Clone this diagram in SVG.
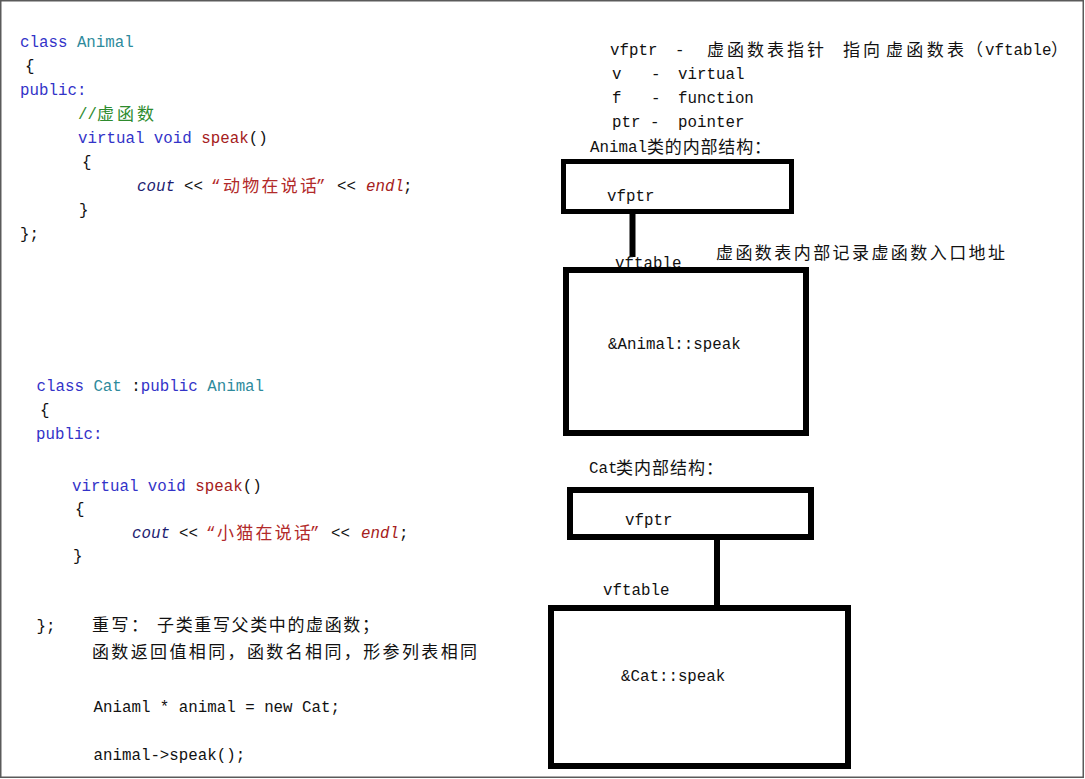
<svg xmlns="http://www.w3.org/2000/svg" width="1085" height="779" viewBox="0 0 1085 779">
<style>
text{fill:#111}
.m{font-family:"Liberation Mono","Noto Sans CJK SC",monospace;font-size:15.8px}
.c{font-family:"Noto Sans CJK SC","Noto Sans",sans-serif;font-size:17px}
.kw{fill:#3333c8}
.ty{fill:#2e8a9c}
.fn{fill:#a52020}
.st{fill:#b22a2a}
.cm{fill:#2e8b2e}
.io{fill:#1c1c70;font-style:italic}
.it{font-style:italic}
.box{fill:#fff;stroke:#000}
.link{stroke:#000;stroke-width:6;fill:none}
</style>
<rect x="0" y="0" width="1085" height="779" fill="#fff"/>
<rect x="0.75" y="0.75" width="1082.5" height="776.5" fill="none" stroke="#5a5a5a" stroke-width="1.5"/>

<g id="animal-code">
<text class="m" x="20" y="47"><tspan class="kw">class</tspan> <tspan class="ty">Animal</tspan></text>
<text class="m" x="25" y="71">{</text>
<text class="m kw" x="20" y="95">public:</text>
<text class="m cm" x="78" y="119">//</text>
<text class="c cm" x="97" y="120" textLength="57" lengthAdjust="spacing">虚函数</text>
<text class="m" x="78" y="143"><tspan class="kw">virtual void</tspan> <tspan class="fn">speak</tspan>()</text>
<text class="m" x="82" y="167">{</text>
<text class="m io" x="137" y="191">cout</text>
<text class="m" x="184" y="191">&lt;&lt;</text>
<text class="m st" x="211" y="191">“</text>
<text class="c st" x="223" y="192" textLength="94" lengthAdjust="spacing">动物在说话</text>
<text class="m st" x="316" y="191">”</text>
<text class="m" x="337" y="191">&lt;&lt;</text>
<text class="m fn it" x="366" y="191">endl</text>
<text class="m" x="403" y="191">;</text>
<text class="m" x="79" y="215">}</text>
<text class="m" x="20" y="239">};</text>
</g>

<g id="cat-code">
<text class="m" x="36.5" y="391"><tspan class="kw">class</tspan> <tspan class="ty">Cat</tspan> :<tspan class="kw">public</tspan> <tspan class="ty">Animal</tspan></text>
<text class="m" x="40" y="415">{</text>
<text class="m kw" x="36" y="439">public:</text>
<text class="m" x="72" y="491"><tspan class="kw">virtual void</tspan> <tspan class="fn">speak</tspan>()</text>
<text class="m" x="75" y="514">{</text>
<text class="m io" x="132" y="538">cout</text>
<text class="m" x="179" y="538">&lt;&lt;</text>
<text class="m st" x="206" y="538">“</text>
<text class="c st" x="217" y="539" textLength="94" lengthAdjust="spacing">小猫在说话</text>
<text class="m st" x="310" y="538">”</text>
<text class="m" x="331" y="538">&lt;&lt;</text>
<text class="m fn it" x="361" y="538">endl</text>
<text class="m" x="399" y="538">;</text>
<text class="m" x="73" y="561">}</text>
<text class="m" x="36.5" y="631">};</text>
</g>

<g id="override-notes">
<text class="c" x="92" y="631" textLength="56" lengthAdjust="spacing">重写：</text>
<text class="c" x="157" y="631" textLength="222" lengthAdjust="spacing">子类重写父类中的虚函数；</text>
<text class="c" x="92" y="658" textLength="385" lengthAdjust="spacing">函数返回值相同，函数名相同，形参列表相同</text>
<text class="m" x="93.5" y="712">Aniaml * animal = new Cat;</text>
<text class="m" x="93.5" y="760">animal-&gt;speak();</text>
</g>

<g id="legend">
<text class="m" x="610" y="55">vfptr</text>
<text class="m" x="675" y="55">-</text>
<text class="c" x="707" y="56" textLength="117" lengthAdjust="spacing">虚函数表指针</text>
<text class="c" x="843" y="56" textLength="37" lengthAdjust="spacing">指向</text>
<text class="c" x="886" y="56" textLength="78" lengthAdjust="spacing">虚函数表</text>
<text class="c" x="966" y="56">（</text>
<text class="m" x="985" y="55">vftable</text>
<text class="c" x="1051" y="56">）</text>
<text class="m" x="612" y="79">v</text>
<text class="m" x="651" y="79">-</text>
<text class="m" x="678" y="79">virtual</text>
<text class="m" x="612" y="103">f</text>
<text class="m" x="651" y="103">-</text>
<text class="m" x="678" y="103">function</text>
<text class="m" x="612" y="127">ptr</text>
<text class="m" x="650" y="127">-</text>
<text class="m" x="678" y="127">pointer</text>
</g>

<g id="connectors">
<line class="link" x1="632.5" y1="212" x2="632.5" y2="257"/>
<line class="link" x1="717" y1="538" x2="717" y2="607"/>
</g>

<g id="animal-struct">
<text class="m" x="590" y="152">Animal</text>
<text class="c" x="647" y="153" textLength="124" lengthAdjust="spacing">类的内部结构：</text>
</g>

<g id="animal-vfptr">
<rect class="box" x="563.5" y="161.5" width="228" height="50" stroke-width="5"/>
<text class="m" x="607" y="201">vfptr</text>
</g>

<g id="animal-vftable">
<text class="m" x="615" y="268">vftable</text>
<text class="c" x="716" y="259" textLength="289" lengthAdjust="spacing">虚函数表内部记录虚函数入口地址</text>
<rect class="box" x="566" y="270" width="240" height="163" stroke-width="6"/>
<text class="m" x="608" y="349">&amp;Animal::speak</text>
</g>

<g id="cat-struct">
<text class="m" x="589" y="473">Cat</text>
<text class="c" x="616" y="474" textLength="107" lengthAdjust="spacing">类内部结构：</text>
</g>

<g id="cat-vfptr">
<rect class="box" x="570" y="490" width="241" height="47" stroke-width="6"/>
<text class="m" x="625" y="525">vfptr</text>
</g>

<g id="cat-vftable">
<text class="m" x="603" y="595">vftable</text>
<rect class="box" x="551" y="608" width="297" height="158" stroke-width="6"/>
<text class="m" x="621" y="681">&amp;Cat::speak</text>
</g>
</svg>
